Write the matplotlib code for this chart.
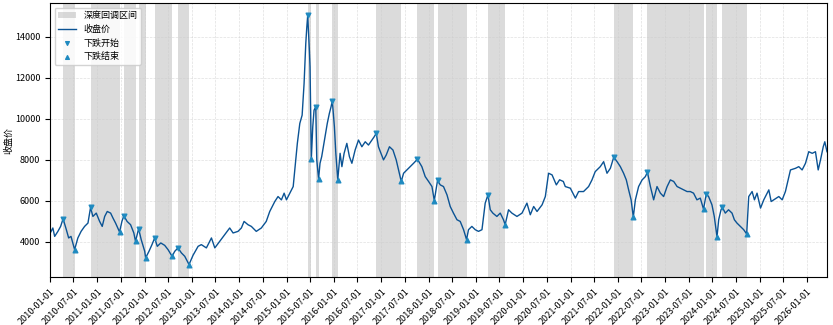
"""
drawdown_chart.py
Close price with deep drawdown intervals shaded, start/end markers on the line.
"""

import matplotlib
matplotlib.use("Agg")
import matplotlib.pyplot as plt
import matplotlib.dates as mdates
import pandas as pd

plt.rcParams["font.family"] = ["Noto Sans CJK SC", "DejaVu Sans"]
plt.rcParams["axes.unicode_minus"] = False

# ---------------------------------------------------------------------------
# Data
# ---------------------------------------------------------------------------

DATES = [
    "2010-01-04", "2010-01-23", "2010-02-06", "2010-03-03", "2010-03-24", "2010-04-12",
    "2010-05-07", "2010-05-25", "2010-06-12", "2010-07-10", "2010-08-04", "2010-08-29",
    "2010-09-25", "2010-10-21", "2010-11-10", "2010-11-28", "2010-12-24", "2011-01-19",
    "2011-02-08", "2011-02-27", "2011-03-19", "2011-04-14", "2011-05-02", "2011-05-22",
    "2011-06-22", "2011-07-10", "2011-07-25", "2011-08-19", "2011-09-15", "2011-10-10",
    "2011-10-23", "2011-11-16", "2011-12-06", "2012-01-02", "2012-01-09", "2012-02-04",
    "2012-02-27", "2012-03-19", "2012-04-08", "2012-05-05", "2012-06-04", "2012-06-30",
    "2012-07-31", "2012-08-21", "2012-09-15", "2012-10-11", "2012-11-06", "2012-12-09",
    "2013-01-09", "2013-02-17", "2013-03-14", "2013-04-22", "2013-05-31", "2013-06-26",
    "2013-08-03", "2013-09-10", "2013-10-19", "2013-11-14", "2013-12-22", "2014-01-17",
    "2014-02-07", "2014-03-09", "2014-04-04", "2014-05-12", "2014-06-20", "2014-07-28",
    "2014-08-24", "2014-10-02", "2014-10-27", "2014-11-22", "2014-12-13", "2014-12-31",
    "2015-01-26", "2015-02-21", "2015-03-05", "2015-03-25", "2015-04-13", "2015-05-01",
    "2015-05-16", "2015-05-29", "2015-06-06", "2015-06-13", "2015-06-26", "2015-07-01",
    "2015-07-11", "2015-07-22", "2015-08-01", "2015-08-14", "2015-08-22", "2015-09-05",
    "2015-09-16", "2015-09-29", "2015-10-25", "2015-11-11", "2015-11-27", "2015-12-10",
    "2015-12-20", "2016-01-05", "2016-01-16", "2016-01-31", "2016-02-18", "2016-03-03",
    "2016-03-20", "2016-04-10", "2016-04-30", "2016-05-19", "2016-06-13", "2016-07-09",
    "2016-08-04", "2016-08-30", "2016-09-24", "2016-10-21", "2016-11-07", "2016-11-23",
    "2016-12-10", "2017-01-18", "2017-02-08", "2017-03-05", "2017-04-01", "2017-04-26",
    "2017-05-14", "2017-06-04", "2017-06-22", "2017-07-18", "2017-08-12", "2017-09-07",
    "2017-10-07", "2017-11-10", "2017-12-06", "2018-01-01", "2018-01-27", "2018-02-14",
    "2018-02-27", "2018-03-11", "2018-04-01", "2018-04-26", "2018-05-23", "2018-06-17",
    "2018-07-12", "2018-08-08", "2018-09-02", "2018-09-28", "2018-10-21", "2018-11-05",
    "2018-12-01", "2018-12-27", "2019-01-21", "2019-02-17", "2019-03-14", "2019-04-04",
    "2019-04-22", "2019-05-12", "2019-06-12", "2019-07-08", "2019-08-02", "2019-08-15",
    "2019-09-10", "2019-10-06", "2019-11-14", "2019-12-23", "2020-01-30", "2020-02-25",
    "2020-03-22", "2020-04-17", "2020-05-26", "2020-06-20", "2020-07-15", "2020-08-11",
    "2020-09-13", "2020-10-08", "2020-11-06", "2020-11-21", "2020-12-30", "2021-02-07",
    "2021-03-04", "2021-04-11", "2021-05-20", "2021-06-15", "2021-07-10", "2021-08-18",
    "2021-09-13", "2021-10-09", "2021-11-04", "2021-11-30", "2021-12-26", "2022-01-20",
    "2022-02-14", "2022-03-07", "2022-03-25", "2022-04-13", "2022-04-30", "2022-05-16",
    "2022-06-10", "2022-07-07", "2022-08-01", "2022-08-17", "2022-09-09", "2022-10-04",
    "2022-10-30", "2022-11-25", "2022-12-20", "2023-01-16", "2023-02-10", "2023-03-08",
    "2023-04-03", "2023-04-28", "2023-05-24", "2023-06-19", "2023-07-14", "2023-08-08",
    "2023-09-03", "2023-09-29", "2023-10-24", "2023-11-14", "2023-12-02", "2023-12-28",
    "2024-01-15", "2024-02-05", "2024-02-18", "2024-03-07", "2024-03-17", "2024-04-09",
    "2024-05-04", "2024-05-31", "2024-06-18", "2024-07-08", "2024-08-03", "2024-08-29",
    "2024-09-21", "2024-10-07", "2024-11-02", "2024-11-20", "2024-12-10", "2025-01-06",
    "2025-01-31", "2025-03-11", "2025-03-29", "2025-04-18", "2025-05-27", "2025-06-22",
    "2025-07-17", "2025-08-25", "2025-10-03", "2025-10-28", "2025-11-23", "2025-12-19",
    "2026-01-13", "2026-02-09", "2026-03-06", "2026-03-27", "2026-04-14", "2026-05-05",
    "2026-05-17", "2026-06-03",
]

CLOSE = [
    4450, 4680, 4270, 4515, 4757, 5130,
    4600, 4194, 4270, 3626, 4194, 4515,
    4757, 4920, 5680, 5243, 5405, 5000,
    4757, 5243, 5485, 5405, 5165, 4920,
    4485, 5000, 5277, 5000, 4840, 4437,
    4030, 4645, 4112, 3544, 3223, 3544,
    3869, 4194, 3786, 3950, 3835, 3626,
    3300, 3545, 3709, 3466, 3300, 2898,
    3350, 3786, 3869, 3709, 4194, 3709,
    4030, 4355, 4680, 4437, 4515, 4680,
    5000, 4840, 4757, 4515, 4680, 5000,
    5485, 5970, 6213, 6050, 6378, 6053,
    6378, 6700, 7510, 8805, 9776, 10180,
    11718, 13660, 14465, 15040, 13334, 12523,
    8063, 9611, 10422, 10583, 8000, 7078,
    7834, 8158, 9126, 9776, 10262, 10583,
    10874, 9611, 8320, 7029, 8320, 7670,
    8320, 8805, 8158, 7834, 8480, 8966,
    8640, 8883, 8723, 8966, 9126, 9296,
    8640, 8000, 8237, 8640, 8480, 8000,
    7510, 6947, 7349, 7510, 7670, 7834,
    8034, 7670, 7184, 6947, 6700, 6015,
    6538, 6995, 6781, 6700, 6296, 5728,
    5405, 5082, 5000, 4597, 4112, 4597,
    4757, 4597, 4515, 4597, 5893, 6291,
    5568, 5405, 5243, 5405, 5082, 4840,
    5568, 5405, 5243, 5405, 5893, 5325,
    5728, 5485, 5810, 6213, 7349, 7268,
    6781, 7029, 6947, 6700, 6620, 6136,
    6456, 6456, 6700, 7024, 7427, 7670,
    7912, 7349, 7590, 8131, 7912, 7670,
    7349, 7024, 6538, 6053, 5213, 6053,
    6700, 7024, 7184, 7403, 6700, 6053,
    6700, 6378, 6213, 6700, 7024, 6947,
    6700, 6620, 6538, 6456, 6456, 6378,
    6053, 6136, 5597, 6340, 6213, 5810,
    5243, 4243, 5082, 5568, 5694, 5405,
    5568, 5405, 5082, 4920, 4757, 4597,
    4388, 6213, 6456, 6053, 6378, 5650,
    6053, 6538, 5970, 6053, 6213, 6053,
    6456, 7510, 7590, 7670, 7510, 7834,
    8398, 8320, 8398, 7510, 8000, 8640,
    8883, 8398,
]

# deep drawdown intervals: peak date -> trough date
DD_START = [
    "2010-04-12", "2010-11-10", "2011-07-25", "2011-11-16", "2012-03-19", "2012-09-15",
    "2015-06-13", "2015-08-14", "2015-12-20", "2016-11-23", "2017-10-07", "2018-03-11",
    "2019-04-04", "2021-11-30", "2022-08-17", "2023-11-14", "2024-03-17",
]
DD_END = [
    "2010-07-10", "2011-06-22", "2011-10-23", "2012-01-09", "2012-07-31", "2012-12-09",
    "2015-07-11", "2015-09-05", "2016-01-31", "2017-06-04", "2018-02-14", "2018-10-21",
    "2019-08-15", "2022-04-30", "2023-10-24", "2024-02-05", "2024-09-21",
]

# ---------------------------------------------------------------------------
# Plot
# ---------------------------------------------------------------------------

close = pd.Series(CLOSE, index=pd.to_datetime(DATES))
starts = pd.to_datetime(DD_START)
ends = pd.to_datetime(DD_END)

fig, ax = plt.subplots(figsize=(8.33, 3.25), dpi=100)
fig.subplots_adjust(left=50 / 833, right=827 / 833, top=1 - 3 / 325, bottom=1 - 277 / 325)

for i, (s, e) in enumerate(zip(starts, ends)):
    ax.axvspan(s, e, color="gray", alpha=0.28, linewidth=0,
               label="深度回调区间" if i == 0 else None)

ax.plot(close.index, close.values, color="#0b5394", linewidth=1.0, label="收盘价")
ax.scatter(starts, close.loc[starts].values, marker="v", s=11,
           color="#1f8ac0", zorder=3, label="下跌开始")
ax.scatter(ends, close.loc[ends].values, marker="^", s=11,
           color="#1f8ac0", zorder=3, label="下跌结束")

# axis starts on the first tick like the original
ax.set_xlim(pd.Timestamp("2010-01-01"), close.index[-1])
ax.set_ylabel("收盘价", fontsize=6.5, labelpad=1)
ax.xaxis.set_major_locator(mdates.MonthLocator(bymonth=[1, 7], bymonthday=1))
ax.xaxis.set_major_formatter(mdates.DateFormatter("%Y-%m-%d"))
plt.setp(ax.get_xticklabels(), rotation=45, ha="right", rotation_mode="anchor")
ax.tick_params(labelsize=6.5)
ax.grid(True, linestyle="--", linewidth=0.5, color="#cccccc", alpha=0.6)

ax.legend(loc="upper left", fontsize=6.5, framealpha=0.85, markerscale=0.8)

fig.savefig("out.png", dpi=100)
